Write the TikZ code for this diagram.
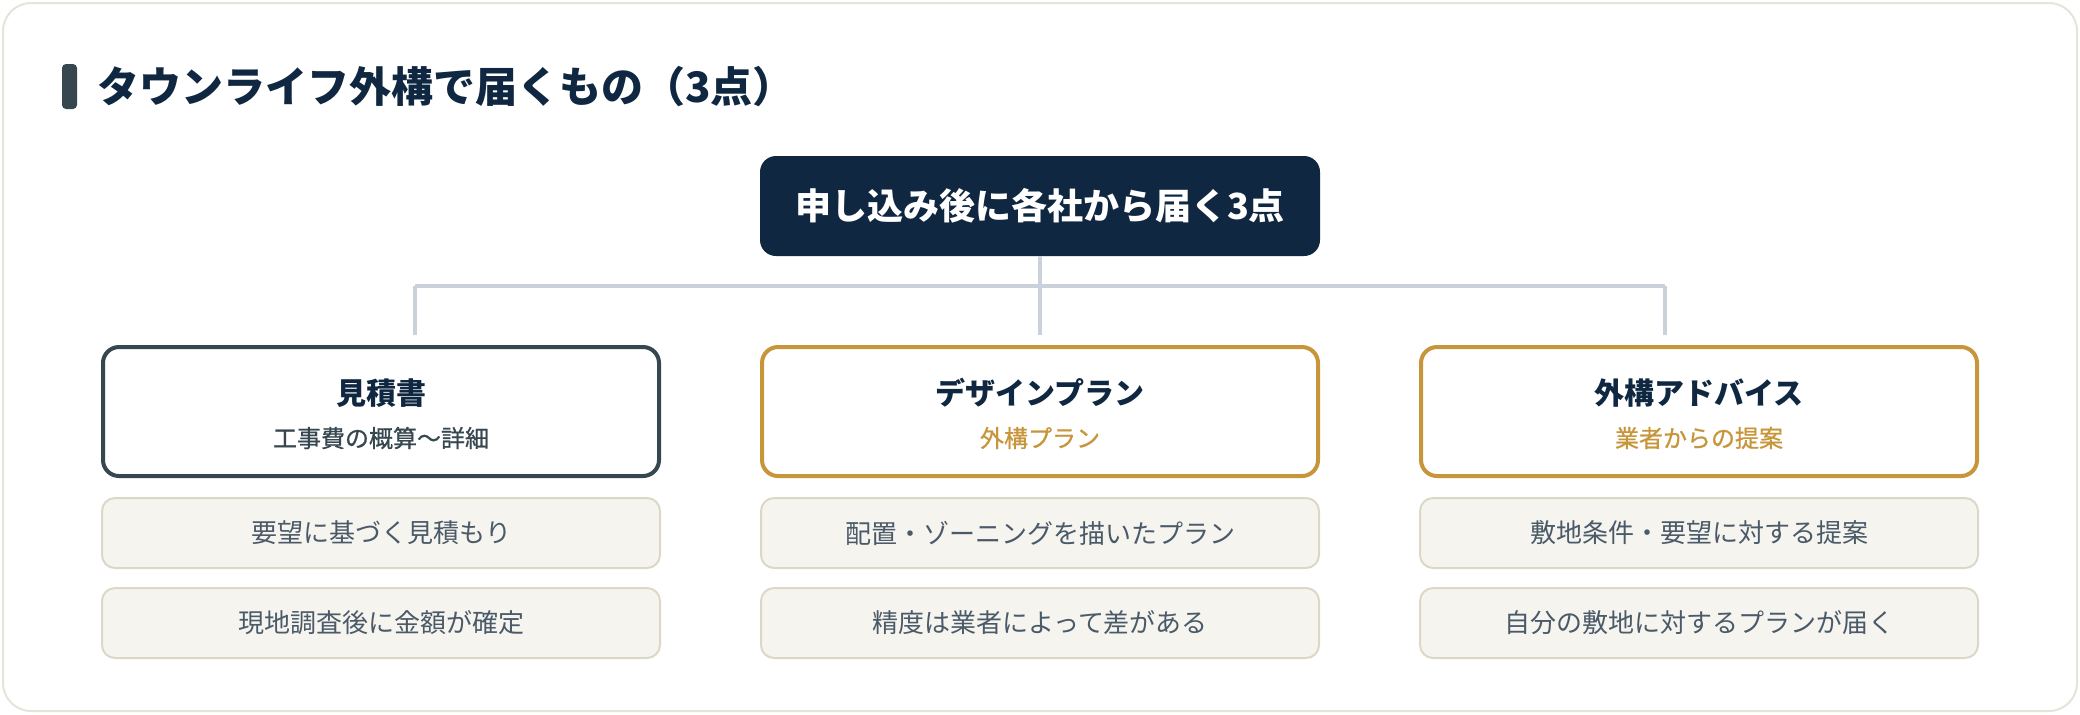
\documentclass[tikz,border=0pt]{standalone}
\usepackage{fontspec}
\setmainfont{Noto Sans CJK JP}
\newfontfamily\medfont[FakeBold=0.8]{Noto Sans CJK JP}
\definecolor{navy}{HTML}{0F2740}
\definecolor{slate}{HTML}{37474F}
\definecolor{gold}{HTML}{C8963A}
\definecolor{linkgray}{HTML}{CBD1DB}
\definecolor{cardline}{HTML}{E6E3D8}
\definecolor{itemfill}{HTML}{F6F4EF}
\definecolor{itemline}{HTML}{DCD8C8}
\definecolor{itemtext}{HTML}{4A5A68}
\tikzset{
	headbox/.style={draw=gold,line width=2pt,fill=white,rounded corners=8pt,minimum width=278pt,minimum height=64.5pt,inner sep=0pt},
	headtitle/.style={inner sep=0pt,text=navy,font=\fontsize{15pt}{18pt}\selectfont\bfseries},
	headsub/.style={inner sep=0pt,text=gold,font=\fontsize{12pt}{14pt}\selectfont\medfont},
	itembox/.style={draw=itemline,line width=1pt,fill=itemfill,rounded corners=6.5pt,minimum width=279pt,minimum height=35pt,inner sep=0pt,text=itemtext,font=\fontsize{13pt}{15pt}\selectfont},
	link/.style={draw=linkgray,line width=2pt}
}
\begin{document}
\begin{tikzpicture}[x=0.5pt,y=-0.5pt]
	\useasboundingbox (0,0) rectangle (2080,714);
	\draw[cardline,line width=1pt,fill=white,rounded corners=14pt] (3,3) rectangle (2077,711);
	\fill[slate,rounded corners=2pt] (62,64) rectangle (77,109);
	\node[anchor=west,inner sep=0pt,text=navy,font=\fontsize{21pt}{25pt}\selectfont\bfseries] (title) at (97,87) {タウンライフ外構で届くもの（3点）};
	\node[fill=navy,rounded corners=8pt,minimum width=280pt,minimum height=50pt,inner sep=0pt,text=white,font=\fontsize{18pt}{22pt}\selectfont\bfseries] (top) at (1040,206) {申し込み後に各社から届く3点};
	\coordinate (hub) at (1040,286);
	\coordinate (hubl) at (415,286);
	\coordinate (hubr) at (1665,286);
	\coordinate (dropl) at (415,335);
	\coordinate (dropm) at (1040,335);
	\coordinate (dropr) at (1665,335);
	\draw[link] (top.south) -- (hub);
	\draw[link] (hubl) -- (hubr);
	\draw[link] (hubl) -- (dropl);
	\draw[link] (hub) -- (dropm);
	\draw[link] (hubr) -- (dropr);
	\node[headbox,draw=slate] (est) at (381,411.5) {};
	\node[headtitle] (esttitle) at (381,393) {見積書};
	\node[headsub,text=slate] (estsub) at (381,438) {工事費の概算〜詳細};
	\node[headbox] (plan) at (1040,411.5) {};
	\node[headtitle] (plantitle) at (1040,393) {デザインプラン};
	\node[headsub] (plansub) at (1040,438) {外構プラン};
	\node[headbox] (adv) at (1699,411.5) {};
	\node[headtitle] (advtitle) at (1699,393) {外構アドバイス};
	\node[headsub] (advsub) at (1699,438) {業者からの提案};
	\node[itembox] (est1) at (381,533) {要望に基づく見積もり};
	\node[itembox] (est2) at (381,623) {現地調査後に金額が確定};
	\node[itembox] (plan1) at (1040,533) {配置・ゾーニングを描いたプラン};
	\node[itembox] (plan2) at (1040,623) {精度は業者によって差がある};
	\node[itembox] (adv1) at (1699,533) {敷地条件・要望に対する提案};
	\node[itembox] (adv2) at (1699,623) {自分の敷地に対するプランが届く};
\end{tikzpicture}
\end{document}
